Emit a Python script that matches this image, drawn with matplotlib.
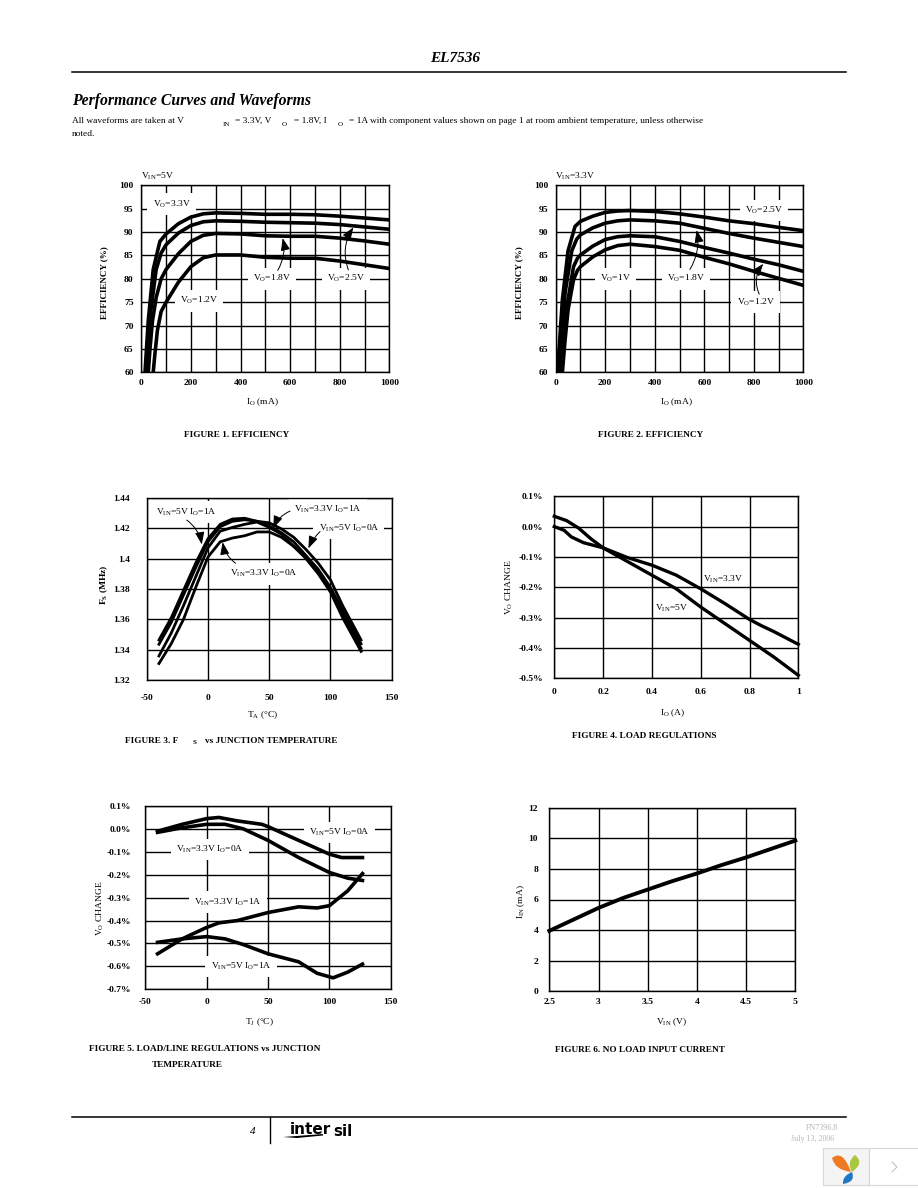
import matplotlib
matplotlib.use('Agg')
import matplotlib.pyplot as plt
from matplotlib.patches import PathPatch, Polygon, Rectangle
from matplotlib.path import Path

plt.rcParams['font.family'] = ['Liberation Serif', 'DejaVu Serif']
plt.rcParams['mathtext.fontset'] = 'custom'
plt.rcParams['mathtext.rm'] = 'Liberation Serif'
plt.rcParams['mathtext.bf'] = 'Liberation Serif:bold'
plt.rcParams['mathtext.it'] = 'Liberation Serif:italic'

# Figure 1, efficiency at VIN = 5V
f1_x = [15, 22, 28, 48, 75, 100, 150, 200, 250, 300, 400, 500, 600, 700, 800, 900, 1000]
f1_33v = [60, 66, 71, 82, 88, 89.6, 91.8, 93.2, 93.9, 94.1, 94.0, 93.8, 93.8, 93.7, 93.4, 93.0, 92.6]
f1_x2 = [22, 30, 38, 60, 80, 100, 150, 200, 250, 300, 400, 500, 600, 700, 800, 900, 1000]
f1_25v = [60, 67, 73, 82, 85.5, 87.3, 89.8, 91.4, 92.2, 92.4, 92.3, 92.1, 92.0, 91.9, 91.6, 91.1, 90.6]
f1_x3 = [28, 35, 45, 60, 80, 100, 150, 200, 250, 300, 400, 500, 600, 700, 800, 900, 1000]
f1_18v = [60, 65, 71, 76, 80, 82, 85.4, 88, 89.3, 89.7, 89.6, 89.2, 89.1, 89.1, 88.7, 88.1, 87.4]
f1_x4 = [48, 55, 65, 80, 100, 150, 200, 250, 300, 400, 500, 600, 700, 800, 900, 1000]
f1_12v = [60, 64, 69, 73, 75, 79.3, 82.6, 84.5, 85.1, 85.1, 84.6, 84.4, 84.4, 83.8, 83, 82.2]

# Figure 2, efficiency at VIN = 3.3V
f2_x = [8, 15, 27, 50, 78, 100, 150, 200, 250, 300, 400, 500, 600, 700, 800, 900, 1000]
f2_25v = [60, 66, 75.5, 86, 91.2, 92.3, 93.4, 94.2, 94.5, 94.6, 94.4, 93.9, 93.2, 92.4, 91.8, 91, 90.3]
f2_x2 = [15, 25, 38, 65, 85, 100, 150, 200, 250, 300, 400, 500, 600, 700, 800, 900, 1000]
f2_18v = [60, 68, 77, 86, 88.5, 89.4, 90.9, 91.9, 92.4, 92.6, 92.4, 91.9, 90.8, 89.7, 88.7, 87.8, 86.9]
f2_x3 = [22, 32, 45, 72, 88, 100, 150, 200, 250, 300, 400, 500, 600, 700, 800, 900, 1000]
f2_12v = [60, 66, 74, 82.6, 84.4, 85.1, 87, 88.4, 89, 89.2, 89, 88, 86.7, 85.5, 84.2, 83, 81.6]
f2_x4 = [27, 38, 50, 72, 88, 100, 150, 200, 250, 300, 400, 500, 600, 700, 800, 900, 1000]
f2_10v = [60, 67, 73.4, 79.8, 81.8, 82.6, 84.7, 86.2, 87.1, 87.4, 86.9, 86.1, 84.6, 83.2, 81.6, 80.1, 78.6]

# Figure 3, switching frequency vs temperature
f3_x = [-40, -30, -20, -10, 0, 10, 20, 30, 40, 50, 60, 70, 80, 90, 100, 110, 125]
f3_5v1a = [1.3465, 1.361, 1.379, 1.397, 1.413, 1.4225, 1.426, 1.4265, 1.4245, 1.4235, 1.4195, 1.414, 1.406, 1.397, 1.386, 1.369, 1.3465]
f3_33v1a = [1.3437, 1.358, 1.376, 1.394, 1.411, 1.421, 1.4245, 1.4255, 1.4245, 1.4215, 1.417, 1.411, 1.402, 1.393, 1.381, 1.366, 1.344]
f3_5v0a = [1.336, 1.351, 1.369, 1.388, 1.407, 1.418, 1.4205, 1.4225, 1.424, 1.4205, 1.416, 1.408, 1.401, 1.392, 1.38, 1.364, 1.341]
f3_33v0a = [1.331, 1.344, 1.36, 1.381, 1.401, 1.411, 1.4135, 1.415, 1.4175, 1.4175, 1.414, 1.408, 1.4, 1.39, 1.378, 1.361, 1.339]

# Figure 4, load regulation
f4_x5 = [0, 0.05, 0.07, 0.1, 0.15, 0.2, 0.3, 0.4, 0.5, 0.6, 0.7, 0.8, 0.9, 1]
f4_5v = [0.034, 0.02, 0.01, -0.005, -0.04, -0.07, -0.115, -0.16, -0.205, -0.265, -0.32, -0.375, -0.43, -0.49]
f4_x33 = [0, 0.04, 0.07, 0.12, 0.2, 0.3, 0.4, 0.5, 0.6, 0.7, 0.8, 0.85, 0.9, 1]
f4_33v = [0, -0.012, -0.034, -0.053, -0.07, -0.102, -0.127, -0.16, -0.205, -0.254, -0.306, -0.327, -0.346, -0.388]

# Figure 5, load/line regulation vs temperature
f5_x1 = [-40, -20, 0, 10, 25, 45, 50, 75, 100, 110, 127]
f5_5v0a = [-0.01, 0.02, 0.045, 0.05, 0.035, 0.02, 0.01, -0.05, -0.11, -0.125, -0.125]
f5_x2 = [-40, -20, 0, 15, 30, 50, 75, 100, 115, 127]
f5_33v0a = [-0.015, 0.005, 0.02, 0.02, 0, -0.05, -0.125, -0.19, -0.215, -0.225]
f5_x3 = [-40, -20, 0, 10, 25, 50, 75, 90, 100, 115, 127]
f5_33v1a = [-0.545, -0.48, -0.43, -0.41, -0.4, -0.365, -0.34, -0.345, -0.335, -0.27, -0.195]
f5_x4 = [-40, -20, 0, 15, 30, 50, 75, 90, 103, 115, 127]
f5_5v1a = [-0.495, -0.48, -0.47, -0.48, -0.505, -0.545, -0.58, -0.63, -0.65, -0.625, -0.59]

# Figure 6, no load input current
f6_vin = [2.5, 2.75, 3, 3.25, 3.5, 3.75, 4, 4.25, 4.5, 4.75, 5]
f6_iin = [3.95, 4.7, 5.45, 6.1, 6.65, 7.2, 7.7, 8.25, 8.75, 9.3, 9.85]

eff_ticks = [60, 65, 70, 75, 80, 85, 90, 95, 100]
eff_xticks = [0, 100, 200, 300, 400, 500, 600, 700, 800, 900, 1000]
eff_xlabels = ['0', '', '200', '', '400', '', '600', '', '800', '', '1000']
fs_yticks = [1.32, 1.34, 1.36, 1.38, 1.4, 1.42, 1.44]
fs_ylabels = ['1.32', '1.34', '1.36', '1.38', '1.4', '1.42', '1.44']
temp_ticks = [-50, 0, 50, 100, 150]
reg4_ticks = [-0.5, -0.4, -0.3, -0.2, -0.1, 0, 0.1]
reg4_labels = ['-0.5%', '-0.4%', '-0.3%', '-0.2%', '-0.1%', '0.0%', '0.1%']
load_ticks = [0, 0.2, 0.4, 0.6, 0.8, 1]
load_labels = ['0', '0.2', '0.4', '0.6', '0.8', '1']
reg5_ticks = [-0.7, -0.6, -0.5, -0.4, -0.3, -0.2, -0.1, 0, 0.1]
reg5_labels = ['-0.7%', '-0.6%', '-0.5%', '-0.4%', '-0.3%', '-0.2%', '-0.1%', '0.0%', '0.1%']
vin_ticks = [2.5, 3, 3.5, 4, 4.5, 5]
vin_labels = ['2.5', '3', '3.5', '4', '4.5', '5']
iin_ticks = [0, 2, 4, 6, 8, 10, 12]

W, H = 918, 1188
fig = plt.figure(figsize=(W / 100, H / 100), dpi=100, facecolor='white')

# whole page overlay in pixel coordinates, for the text around the charts
page = fig.add_axes([0, 0, 1, 1], zorder=5)
page.set_xlim(0, W)
page.set_ylim(H, 0)
page.axis('off')
page.patch.set_alpha(0)


def make_axes(left, right, top, bottom, xlim, ylim, xticks, yticks, xlabels, ylabels, padx, pady):
    ax = fig.add_axes([left / W, 1 - bottom / H, (right - left) / W, (bottom - top) / H])
    ax.set_xlim(*xlim)
    ax.set_ylim(*ylim)
    ax.set_xticks(xticks)
    ax.set_xticklabels(xlabels)
    ax.set_yticks(yticks)
    ax.set_yticklabels(ylabels)
    ax.tick_params(axis='x', length=0, pad=padx, labelsize=6.8)
    ax.tick_params(axis='y', length=0, pad=pady, labelsize=6.8)
    for lab in ax.get_xticklabels() + ax.get_yticklabels():
        lab.set_fontweight('bold')
    ax.grid(True, color='black', lw=1.0, zorder=1)
    ax.set_axisbelow(True)
    for s in ax.spines.values():
        s.set_linewidth(1.0)
    return ax


def curve(ax, x, y, lw=2.6):
    ax.plot(x, y, color='black', lw=lw, solid_joinstyle='round', zorder=3)


def tag(ax, x, y, s, box=True):
    bb = dict(boxstyle='square,pad=0.55', fc='white', ec='none') if box else None
    ax.text(x, y, s, fontsize=6.8, ha='center', va='center', bbox=bb, zorder=2.5)


def pointer(ax, xy, xytext, rad=0.2):
    ax.annotate('', xy=xy, xytext=xytext, zorder=4, annotation_clip=False,
                arrowprops=dict(arrowstyle='-|>,head_length=0.75,head_width=0.28', color='black', lw=0.7,
                                connectionstyle='arc3,rad=%s' % rad, shrinkA=0, shrinkB=0))


def vo(val):
    return r'$\mathrm{V_{O}}$=' + val


def vin(val):
    return r'$\mathrm{V_{IN}}$=' + val


def vin_io(v, i):
    return r'$\mathrm{V_{IN}}$=' + v + r' $\mathrm{I_{O}}$=' + i


# Figure 1
ax1 = make_axes(141.3, 389.3, 185.3, 372.3, (0, 1000), (60, 100), eff_xticks, eff_ticks,
                eff_xlabels, [str(t) for t in eff_ticks], 4.5, 5.5)
curve(ax1, f1_x, f1_33v)
curve(ax1, f1_x2, f1_25v)
curve(ax1, f1_x3, f1_18v)
curve(ax1, f1_x4, f1_12v)
tag(ax1, 122, 96, vo('3.3V'))
tag(ax1, 528, 80, vo('1.8V'))
tag(ax1, 825, 80, vo('2.5V'))
tag(ax1, 232, 75.3, vo('1.2V'))
pointer(ax1, (570, 88.7), (550, 81.8), 0.2)
pointer(ax1, (855, 91), (835, 81.9), -0.25)

# Figure 2
ax2 = make_axes(555.7, 803.3, 185.3, 372.3, (0, 1000), (60, 100), eff_xticks, eff_ticks,
                eff_xlabels, [str(t) for t in eff_ticks], 4.5, 5.5)
curve(ax2, f2_x, f2_25v)
curve(ax2, f2_x2, f2_18v)
curve(ax2, f2_x3, f2_12v)
curve(ax2, f2_x4, f2_10v)
tag(ax2, 842, 94.6, vo('2.5V'))
tag(ax2, 526, 80, vo('1.8V'))
tag(ax2, 240, 80, vo('1V'))
tag(ax2, 807, 75, vo('1.2V'))
pointer(ax2, (569, 90.4), (542, 82), 0.2)
pointer(ax2, (838, 83.2), (822, 76.7), -0.3)

# Figure 3
ax3 = make_axes(146.7, 391.7, 497.7, 680.3, (-50, 150), (1.32, 1.44), temp_ticks, fs_yticks,
                [str(t) for t in temp_ticks], fs_ylabels, 10, 12)
for ys in (f3_5v1a, f3_33v1a, f3_5v0a, f3_33v0a):
    curve(ax3, f3_x, ys, lw=2.0)
tag(ax3, -17.3, 1.4305, vin_io('5V', '1A'))
tag(ax3, 98, 1.4325, vin_io('3.3V', '1A'))
tag(ax3, 115, 1.42, vin_io('5V', '0A'))
tag(ax3, 46, 1.39, vin_io('3.3V', '0A'))
pointer(ax3, (-5, 1.4093), (-17.3, 1.4253), -0.2)
pointer(ax3, (53.4, 1.42), (67, 1.4312), 0.2)
pointer(ax3, (82, 1.4067), (91.5, 1.4177), 0.1)
pointer(ax3, (12, 1.4107), (22.6, 1.3969), -0.2)

# Figure 4
ax4 = make_axes(554.3, 798.3, 496.3, 678.3, (0, 1), (-0.5, 0.1), load_ticks, reg4_ticks,
                load_labels, reg4_labels, 7, 8)
for l in (ax4.plot(f4_x5, f4_5v, color='black', lw=2.4, zorder=3) + ax4.plot(f4_x33, f4_33v, color='black', lw=2.4, zorder=3)):
    l.set_clip_on(False)
tag(ax4, 0.69, -0.175, vin('3.3V'), box=False)
tag(ax4, 0.48, -0.27, vin('5V'), box=False)

# Figure 5
ax5 = make_axes(145.3, 390.7, 806, 989.3, (-50, 150), (-0.7, 0.1), temp_ticks, reg5_ticks,
                [str(t) for t in temp_ticks], reg5_labels, 6.5, 10)
curve(ax5, f5_x1, f5_5v0a)
curve(ax5, f5_x2, f5_33v0a)
curve(ax5, f5_x3, f5_33v1a)
curve(ax5, f5_x4, f5_5v1a)
tag(ax5, 108, -0.015, vin_io('5V', '0A'))
tag(ax5, 2.5, -0.09, vin_io('3.3V', '0A'))
tag(ax5, 17.5, -0.32, vin_io('3.3V', '1A'))
tag(ax5, 28, -0.6, vin_io('5V', '1A'))

# Figure 6
ax6 = make_axes(549.3, 795.3, 807.7, 991.3, (2.5, 5), (0, 12), vin_ticks, iin_ticks,
                vin_labels, [str(t) for t in iin_ticks], 5, 8)
ln = ax6.plot(f6_vin, f6_iin, color='black', lw=2.8, zorder=3)[0]
ln.set_clip_on(False)

# Axis titles
axis_size = 6.8
page.text(158, 176, vin('5V'), fontsize=6.8, ha='center', va='center')
page.text(575, 176, vin('3.3V'), fontsize=6.8, ha='center', va='center')
page.text(104, 283, 'EFFICIENCY (%)', fontsize=6.5, fontweight='bold', rotation=90, ha='center', va='center')
page.text(519, 283, 'EFFICIENCY (%)', fontsize=6.5, fontweight='bold', rotation=90, ha='center', va='center')
page.text(262, 402, r'$\mathrm{I_{O}}$ (mA)', fontsize=axis_size, ha='center', va='center')
page.text(676, 402, r'$\mathrm{I_{O}}$ (mA)', fontsize=axis_size, ha='center', va='center')
page.text(104, 585, r'$\mathbf{F_{S}}$ (MHz)', fontsize=axis_size, fontweight='bold', rotation=90, ha='center', va='center')
page.text(263, 715, r'$\mathrm{T_{A}}$ (°C)', fontsize=axis_size, ha='center', va='center')
page.text(509, 587, r'$\mathrm{V_{O}}$ CHANGE', fontsize=axis_size, rotation=90, ha='center', va='center')
page.text(673, 713, r'$\mathrm{I_{O}}$ (A)', fontsize=axis_size, ha='center', va='center')
page.text(100, 908, r'$\mathrm{V_{O}}$ CHANGE', fontsize=axis_size, rotation=90, ha='center', va='center')
page.text(260, 1022, r'$\mathrm{T_{J}}$ (°C)', fontsize=axis_size, ha='center', va='center')
page.text(521, 902, r'$\mathrm{I_{IN}}$ (mA)', fontsize=axis_size, rotation=90, ha='center', va='center')
page.text(672, 1022, r'$\mathrm{V_{IN}}$ (V)', fontsize=axis_size, ha='center', va='center')

# Captions
cap = dict(fontsize=6.7, fontweight='bold', va='center')
page.text(237, 435, 'FIGURE 1. EFFICIENCY', ha='center', **cap)
page.text(650.5, 435, 'FIGURE 2. EFFICIENCY', ha='center', **cap)
page.text(125, 741, 'FIGURE 3. F', ha='left', **cap)
page.text(193, 743, 'S', ha='left', fontsize=5, fontweight='bold', va='center')
page.text(205, 741, 'vs JUNCTION TEMPERATURE', ha='left', **cap)
page.text(644, 736.5, 'FIGURE 4. LOAD REGULATIONS', ha='center', **cap)
page.text(89, 1049, 'FIGURE 5. LOAD/LINE REGULATIONS vs JUNCTION', ha='left', **cap)
page.text(152, 1065, 'TEMPERATURE', ha='left', **cap)
page.text(640, 1050, 'FIGURE 6. NO LOAD INPUT CURRENT', ha='center', **cap)

# Header
page.plot([72, 846], [72, 72], color='black', lw=1.1)
page.text(455, 58, 'EL7536', fontsize=11, fontweight='bold', fontstyle='italic', ha='center', va='center')
page.text(72, 101, 'Performance Curves and Waveforms', fontsize=11.3, fontweight='bold', fontstyle='italic',
          ha='left', va='center')
note = dict(fontsize=6.75, va='center', ha='left')
page.text(72, 121, 'All waveforms are taken at V', **note)
page.text(223, 124, 'IN', fontsize=5, va='center', ha='left')
page.text(235, 121, '= 3.3V, V', **note)
page.text(282, 124, 'O', fontsize=5, va='center', ha='left')
page.text(294, 121, '= 1.8V, I', **note)
page.text(338, 124, 'O', fontsize=5, va='center', ha='left')
page.text(349, 121, '= 1A with component values shown on page 1 at room ambient temperature, unless otherwise', **note)
page.text(72, 134, 'noted.', **note)

# Footer
page.plot([72, 846], [1117, 1117], color='black', lw=1.1)
page.plot([270, 270], [1117, 1143], color='black', lw=1.0)
page.text(253, 1131, '4', fontsize=8, fontstyle='italic', ha='center', va='center')
page.text(289.5, 1129, 'inter', fontsize=11, fontweight='bold', family='DejaVu Sans', ha='left', va='center')
page.text(333.5, 1131.5, 'sil', fontsize=11, fontweight='bold', family='DejaVu Sans', ha='left', va='center')
page.add_patch(Polygon([(283, 1137), (323, 1134), (323, 1135.5), (297, 1138)], fc='black', ec='none'))
page.text(838, 1128, 'FN7396.8', fontsize=5.8, color='#b5b5b5', ha='right', va='center')
page.text(834, 1139, 'July 13, 2006', fontsize=5.8, color='#b5b5b5', ha='right', va='center')

# Viewer widget in the corner
page.add_patch(Rectangle((822.5, 1147.5), 46, 37.5, fc='#f4f4f4', ec='#d8d8d8', lw=0.8))
page.add_patch(Rectangle((868.5, 1147.5), 50, 37.5, fc='white', ec='#d8d8d8', lw=0.8))
leaves = [
    ([(832, 1158), (843, 1149), (851, 1172), (851, 1172), (835, 1170), (832, 1158)], '#ee7a22'),
    ([(855, 1155), (865, 1163), (852, 1172), (852, 1172), (846, 1162), (855, 1155)], '#a9c740'),
    ([(852, 1172), (856, 1182), (843, 1184), (843, 1184), (842, 1176), (852, 1172)], '#2277c4'),
]
for pts, col in leaves:
    codes = [Path.MOVETO, Path.CURVE3, Path.CURVE3, Path.LINETO, Path.CURVE3, Path.CURVE3]
    page.add_patch(PathPatch(Path(pts, codes), fc=col, ec='none'))
page.plot([892, 897, 892], [1162, 1167, 1172], color='#c4c4c4', lw=0.8)

fig.savefig('out.png', dpi=100, facecolor='white')
